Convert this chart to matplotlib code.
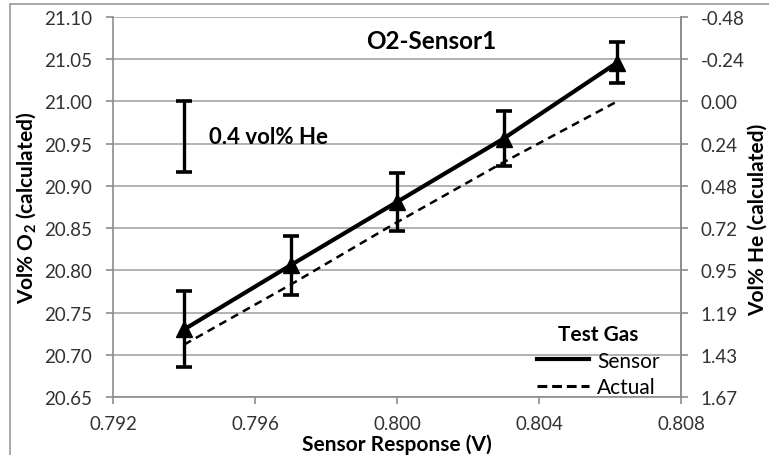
import matplotlib.pyplot as plt
from matplotlib.lines import Line2D
from matplotlib.patches import Rectangle
from matplotlib.ticker import FixedLocator, FuncFormatter

plt.rcParams['font.family'] = ['Lato', 'DejaVu Sans']
plt.rcParams['mathtext.fontset'] = 'custom'
plt.rcParams['mathtext.rm'] = 'Lato'
plt.rcParams['mathtext.bf'] = 'Lato:bold'

# sensor output vs O2 concentration
sensor_v = [0.794, 0.797, 0.800, 0.803, 0.8062]
o2_sensor = [20.730, 20.806, 20.881, 20.956, 21.046]
o2_err = [0.045, 0.035, 0.034, 0.033, 0.024]
o2_actual = [20.712, 20.783, 20.857, 20.928, 21.000]

o2_ticks = [20.65, 20.70, 20.75, 20.80, 20.85, 20.90, 20.95, 21.00, 21.05, 21.10]
v_ticks = [0.792, 0.796, 0.800, 0.804, 0.808]

# scale bar: 0.4 vol% He expressed in O2
he_bar = 0.4
o2_per_he = 0.2095


def o2_to_he(o2):
    return (21.0 - o2) / o2_per_he


def he_to_o2(he):
    return 21.0 - he * o2_per_he


fig = plt.figure(figsize=(7.69, 4.56), dpi=100)
ax = fig.add_axes([0.147, 0.1272, 0.7386, 0.8333])

# chart border
fig.patches.append(Rectangle((10 / 769, -0.1), 1.2, 1 - 5 / 456 + 0.1,
                             transform=fig.transFigure, fill=False,
                             edgecolor='#9a9a9a', linewidth=1.2))

grid_col = '#a6a6a6'
ax.set_xlim(0.792, 0.808)
ax.set_ylim(20.65, 21.10)
ax.set_xticks(v_ticks)
ax.set_xticklabels(['%.3f' % v for v in v_ticks])
ax.set_yticks(o2_ticks)
ax.set_yticklabels(['%.2f' % t for t in o2_ticks])
ax.yaxis.grid(True, color=grid_col, linewidth=1.2)
ax.set_axisbelow(True)
ax.spines['top'].set_visible(False)
for side in ['left', 'bottom', 'right']:
    ax.spines[side].set_color('#8c8c8c')
    ax.spines[side].set_linewidth(1.2)
ax.tick_params(axis='both', colors='#8c8c8c', labelcolor='#333333',
               labelsize=13.5, length=5, width=1.2)
ax.tick_params(axis='y', pad=10)
ax.tick_params(axis='x', pad=8)

ax.plot(sensor_v, o2_actual, color='black', linestyle=(0, (3.2, 2.2)),
        linewidth=1.8, zorder=3)
ax.errorbar(sensor_v, o2_sensor, yerr=o2_err, color='black', linewidth=3,
            marker='^', markersize=11, elinewidth=2.4, capsize=5.5,
            capthick=2.6, zorder=4)

ax.errorbar([sensor_v[0]], [21.0 - he_bar * o2_per_he / 2],
            yerr=[he_bar * o2_per_he / 2], color='black', linestyle='none',
            elinewidth=2.4, capsize=5.5, capthick=2.6)
ax.text(0.7947, 20.958, '0.4 vol% He', fontsize=16, fontweight='bold',
        va='center', ha='left')

ax.text(0.56, 0.939, 'O2-Sensor1', transform=ax.transAxes, fontsize=17.5,
        fontweight='bold', ha='center', va='center')

ax.set_xlabel('Sensor Response (V)', fontsize=15, fontweight='bold')
ax.xaxis.set_label_coords(0.5, -0.096)
ax.set_ylabel(r'Vol% O$_\mathbf{2}$ (calculated)', fontsize=15,
              fontweight='bold')
ax.yaxis.set_label_coords(-0.131, 0.5)

sec = ax.secondary_yaxis('right', functions=(o2_to_he, he_to_o2))
he_ticks = [o2_to_he(t) for t in o2_ticks]
sec.yaxis.set_major_locator(FixedLocator(he_ticks))
sec.yaxis.set_major_formatter(FuncFormatter(lambda v, pos: '%.2f' % (round(v, 2) + 0.0)))
sec.spines['right'].set_color('#8c8c8c')
sec.spines['right'].set_linewidth(1.2)
sec.tick_params(colors='#8c8c8c', labelcolor='#333333', labelsize=13.5,
                length=5, width=1.2, pad=9)
sec.set_ylabel('Vol% He (calculated)', fontsize=15, fontweight='bold')
sec.yaxis.set_label_coords(1.117, 0.47, transform=ax.transAxes)

handles = [Line2D([], [], color='black', linewidth=3),
           Line2D([], [], color='black', linewidth=2.2,
                  linestyle=(0, (3.2, 1.6)))]
leg = ax.legend(handles, ['Sensor', 'Actual'], title='Test Gas',
                loc='lower right', bbox_to_anchor=(0.962, 0.0),
                frameon=False, fontsize=15, handlelength=2.5,
                handletextpad=0.4, labelspacing=0.3, borderpad=0.0,
                borderaxespad=0.0)
leg.get_title().set_fontweight('bold')
leg.get_title().set_fontsize(15)

fig.savefig('out.png', dpi=100)
